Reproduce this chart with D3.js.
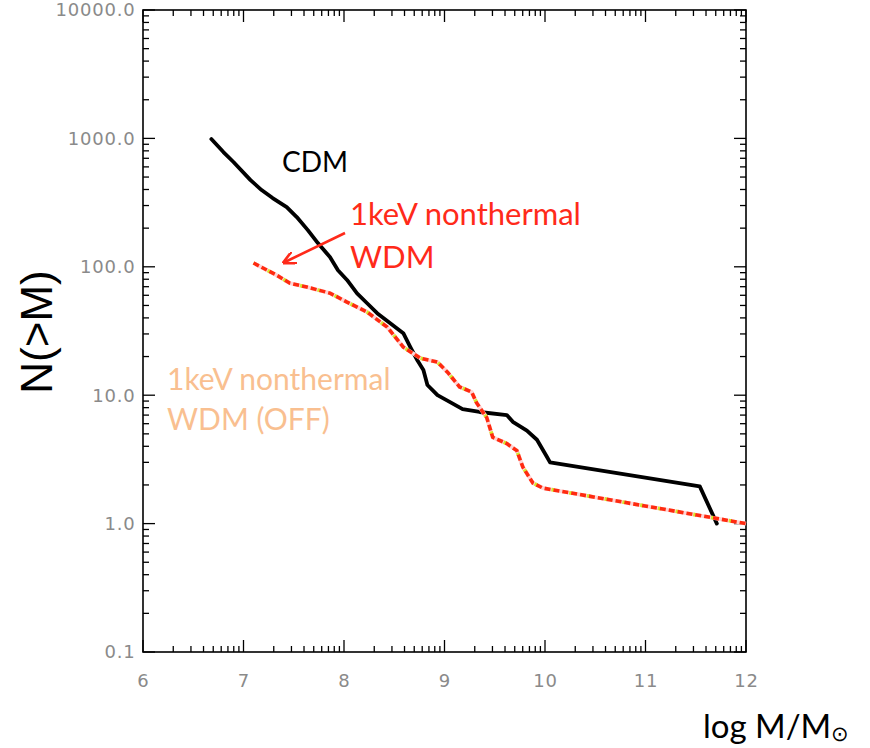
<!DOCTYPE html>
<html><head><meta charset="utf-8">
<script src="https://cdn.jsdelivr.net/npm/d3@7"></script>
<style>body{margin:0;background:#fff}svg{display:block}</style>
</head><body>
<svg id="c" width="870" height="748"></svg>
<script>
// ---- data ----
const xTickLabels = ["6","7","8","9","10","11","12"];
const yTickValues = [0.1, 1, 10, 100, 1000, 10000];
const yTickLabels = ["0.1","1.0","10.0","100.0","1000.0","10000.0"];

const cdmLogM = [6.68,6.80,6.90,7.07,7.18,7.29,7.43,7.53,7.64,7.74,7.86,7.94,8.03,8.13,8.23,8.33,8.46,8.59,8.66,8.73,8.79,8.83,8.93,9.06,9.18,9.35,9.62,9.68,9.82,9.92,10.02,10.05,11.54,11.71];
const cdmN    = [988,783,655,473,396,343,292,244,193,153,119,94,79,62,52,43.5,36.4,30.4,23.7,18.7,15.7,12.0,10.0,8.8,7.8,7.4,7.0,6.2,5.3,4.5,3.3,3.0,1.95,1.0];

const wdmLogM = [7.10,7.33,7.46,7.63,7.86,8.03,8.23,8.43,8.59,8.76,8.93,9.03,9.15,9.27,9.32,9.42,9.48,9.62,9.72,9.78,9.88,9.98,12.0];
const wdmN    = [107,86,74.6,69.5,62.4,53.1,44.4,33.9,23.7,19.4,18.1,15.1,11.6,10.6,8.7,6.7,4.7,4.2,3.7,2.75,2.07,1.89,1.0];

// ---- layout ----
const svg = d3.select("#c");
const L = 143, R = 746, T = 10, B = 652;
const x = d3.scaleLinear().domain([6, 12]).range([L, R]);
const y = d3.scaleLog().domain([0.1, 10000]).range([B, T]);

// frame
svg.append("rect").attr("x", L).attr("y", T).attr("width", R - L).attr("height", B - T)
  .attr("fill", "none").attr("stroke", "#000").attr("stroke-width", 1.6);

// ticks
const tk = svg.append("g").attr("stroke", "#000").attr("stroke-width", 1.3);
const xMajor = d3.range(6, 13);
const xMinor = [];
for (let n = 6; n < 12; n++) for (let k = 2; k <= 9; k++) xMinor.push(n + Math.log10(k));
xMajor.forEach(v => {
  tk.append("line").attr("x1", x(v)).attr("x2", x(v)).attr("y1", B).attr("y2", B - 12);
  tk.append("line").attr("x1", x(v)).attr("x2", x(v)).attr("y1", T).attr("y2", T + 12);
});
xMinor.forEach(v => {
  tk.append("line").attr("x1", x(v)).attr("x2", x(v)).attr("y1", B).attr("y2", B - 6);
  tk.append("line").attr("x1", x(v)).attr("x2", x(v)).attr("y1", T).attr("y2", T + 6);
});
const yMinor = [];
for (let e = -1; e < 4; e++) for (let k = 2; k <= 9; k++) yMinor.push(k * Math.pow(10, e));
yTickValues.forEach(v => {
  tk.append("line").attr("x1", L).attr("x2", L + 12).attr("y1", y(v)).attr("y2", y(v));
  tk.append("line").attr("x1", R).attr("x2", R - 12).attr("y1", y(v)).attr("y2", y(v));
});
yMinor.forEach(v => {
  tk.append("line").attr("x1", L).attr("x2", L + 6).attr("y1", y(v)).attr("y2", y(v));
  tk.append("line").attr("x1", R).attr("x2", R - 6).attr("y1", y(v)).attr("y2", y(v));
});

// tick labels
const tl = svg.append("g").attr("fill", "#8a8a8a").attr("font-family", "DejaVu Sans, sans-serif")
  .attr("font-size", 18).attr("letter-spacing", 0.8);
xMajor.forEach((v, i) => {
  tl.append("text").attr("x", x(v) + 0.5).attr("y", 687).attr("text-anchor", "middle").text(xTickLabels[i]);
});
yTickValues.forEach((v, i) => {
  tl.append("text").attr("x", 135.5).attr("y", y(v)).attr("dy", "0.36em").attr("text-anchor", "end").text(yTickLabels[i]);
});

// axis titles
svg.append("text").attr("transform", "translate(52,332) rotate(-90)").attr("text-anchor", "middle")
  .attr("font-family", "Liberation Sans, Arial, sans-serif").attr("font-size", 44).attr("fill", "#000").text("N(>M)");
const xt = svg.append("text").attr("x", 703).attr("y", 738).attr("font-family", "Lato, sans-serif")
  .attr("font-size", 33).attr("fill", "#000");
xt.append("tspan").text("log M/M");
xt.append("tspan").attr("font-size", 21).attr("dy", 3).text("⊙");

// curves
const line = d3.line().x(d => x(d[0])).y(d => y(d[1])).curve(d3.curveLinear);
const cdm = cdmLogM.map((v, i) => [v, cdmN[i]]);
const wdm = wdmLogM.map((v, i) => [v, wdmN[i]]);

svg.append("path").attr("d", line(cdm)).attr("fill", "none").attr("stroke", "#000")
  .attr("stroke-width", 3.8).attr("stroke-linejoin", "round").attr("stroke-linecap", "round");

svg.append("path").attr("d", line(wdm)).attr("fill", "none").attr("stroke", "#ffd4d4").attr("stroke-width", 4);
svg.append("path").attr("d", line(wdm)).attr("fill", "none").attr("stroke", "#d4ea2a")
  .attr("stroke-width", 3.6).attr("stroke-dasharray", "3,15").attr("stroke-dashoffset", 2);
svg.append("path").attr("d", line(wdm)).attr("fill", "none").attr("stroke", "#ff2a10")
  .attr("stroke-width", 3.6).attr("stroke-dasharray", "6,3");

// annotations
const ann = svg.append("g").attr("font-family", "Lato, sans-serif").attr("font-size", 30);
ann.append("text").attr("x", 282).attr("y", 172).attr("fill", "#000").attr("font-size", 28).text("CDM");
ann.append("text").attr("x", 350).attr("y", 225).attr("fill", "#ff2a1a").attr("font-size", 31).text("1keV nonthermal");
ann.append("text").attr("x", 350).attr("y", 268).attr("fill", "#ff2a1a").attr("font-size", 31).text("WDM");
ann.append("text").attr("x", 167).attr("y", 390).attr("fill", "#f9bf90").text("1keV nonthermal");
ann.append("text").attr("x", 167).attr("y", 430).attr("fill", "#f9bf90").text("WDM (OFF)");

// arrow
const defs = svg.append("defs");
defs.append("marker").attr("id", "ah").attr("viewBox", "0 0 10 10").attr("refX", 8).attr("refY", 5)
  .attr("markerWidth", 5).attr("markerHeight", 5).attr("orient", "auto")
  .append("path").attr("d", "M0,0 L10,5 L0,10").attr("fill", "none").attr("stroke", "#ff2a1a").attr("stroke-width", 2);
svg.append("line").attr("x1", 345).attr("y1", 233).attr("x2", 285).attr("y2", 262)
  .attr("stroke", "#ff2a1a").attr("stroke-width", 2.6).attr("marker-end", "url(#ah)");
</script>
</body></html>
